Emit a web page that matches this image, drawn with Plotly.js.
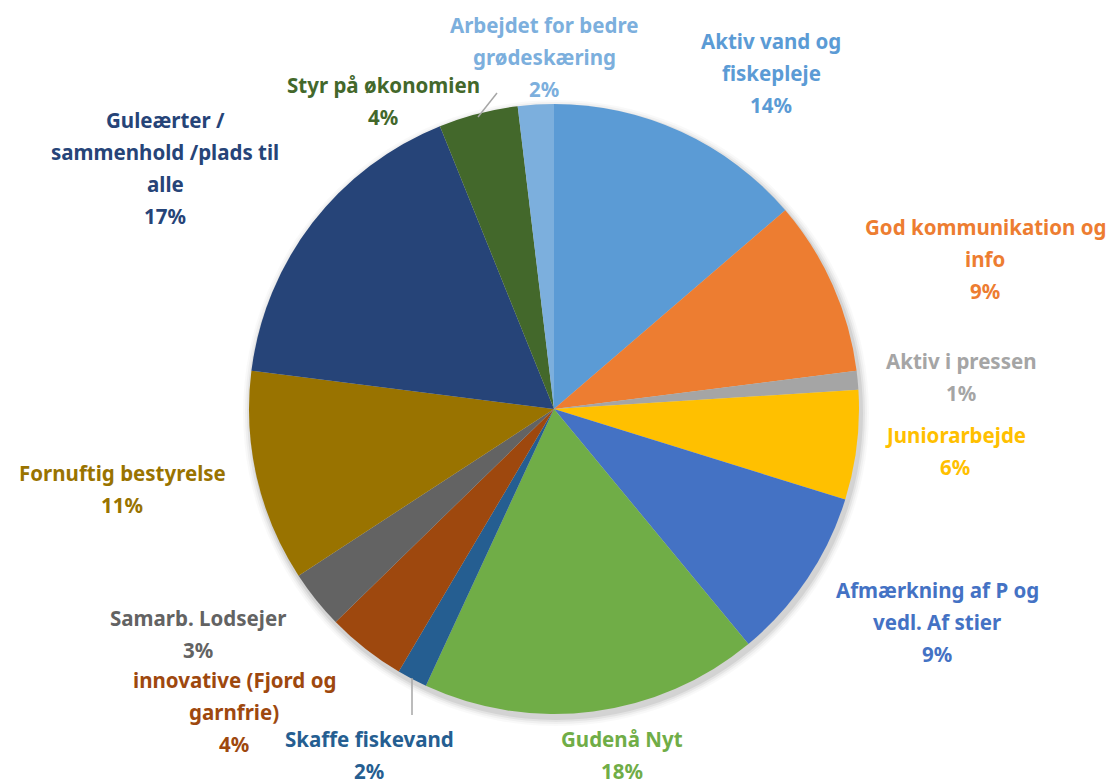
<!DOCTYPE html>
<html>
<head>
<meta charset="utf-8">
<script src="https://cdn.plot.ly/plotly-3.0.1.min.js"></script>
<style>html,body{margin:0;padding:0;background:#fff;}#chart{width:1120px;height:781px;}</style>
</head>
<body>
<div id="chart"></div>
<script>
// ---- data ----
const labels = [
  "Aktiv vand og fiskepleje",
  "God kommunikation og info",
  "Aktiv i pressen",
  "Juniorarbejde",
  "Afmærkning af P og vedl. Af stier",
  "Gudenå Nyt",
  "Skaffe fiskevand",
  "innovative (Fjord og garnfrie)",
  "Samarb. Lodsejer",
  "Fornuftig bestyrelse",
  "Guleærter / sammenhold /plads til alle",
  "Styr på økonomien",
  "Arbejdet for bedre grødeskæring"
];
const values = [13.7, 9.3, 1.0, 5.8, 9.2, 17.9, 1.6, 4.2, 3.1, 11.2, 16.9, 4.2, 1.9];
const labelLines = [
  ["Aktiv vand og", "fiskepleje"],
  ["God kommunikation og", "info"],
  ["Aktiv i pressen"],
  ["Juniorarbejde"],
  ["Afmærkning af P og", "vedl. Af stier"],
  ["Gudenå Nyt"],
  ["Skaffe fiskevand"],
  ["innovative (Fjord og", "garnfrie)"],
  ["Samarb. Lodsejer"],
  ["Fornuftig bestyrelse"],
  ["Guleærter /", "sammenhold /plads til", "alle"],
  ["Styr på økonomien"],
  ["Arbejdet for bedre", "grødeskæring"]
];
const colors = ["#5B9BD5","#ED7D31","#A5A5A5","#FFC000","#4472C4","#70AD47","#255E91",
                "#9E480E","#636363","#997300","#264478","#43682B","#7CAFDD"];

// ---- layout helpers ----
const W = 1120, H = 781;
const px = x => x / W;
const py = y => 1 - y / H;
const cx = 554, cy = 409, r = 305;

// label block centers (pixels)
const labelPos = [
  [771, 73], [985, 259], [961, 377], [955, 451], [937, 622], [622, 755],
  [369, 755], [234, 712], [198, 634], [122, 489], [165, 168], [383, 101], [544, 57]
];
const lineH = 32;

const total = values.reduce((a, b) => a + b, 0);
const annotations = [];
labelLines.forEach((lines, i) => {
  const all = lines.concat([Math.round(values[i] / total * 100) + "%"]);
  const n = all.length;
  all.forEach((t, k) => {
    const y = labelPos[i][1] + (k - (n - 1) / 2) * lineH;
    annotations.push({
      xref: "paper", yref: "paper", x: px(labelPos[i][0]), y: py(y),
      xanchor: "center", yanchor: "middle", showarrow: false, text: t,
      font: {family: "'Noto Sans', sans-serif", size: 20.5, color: colors[i], weight: "bold"}
    });
  });
});

// soft drop shadow behind the pie
const shapes = [];
[[8, 0.025], [6, 0.035], [4, 0.05], [2, 0.07]].forEach(([g, op]) => {
  shapes.push({type: "circle", xref: "paper", yref: "paper", layer: "below",
    x0: px(cx + 2 - r - g), x1: px(cx + 2 + r + g), y0: py(cy + 4 + r + g), y1: py(cy + 4 - r - g),
    fillcolor: "rgba(0,0,0," + op + ")", line: {width: 0}});
});
shapes.push(
  {type: "line", xref: "paper", yref: "paper", x0: px(497), y0: py(93), x1: px(478), y1: py(117),
   line: {color: "#A6A6A6", width: 1.5}},
  {type: "line", xref: "paper", yref: "paper", x0: px(412), y0: py(678), x1: px(412), y1: py(715),
   line: {color: "#A6A6A6", width: 1.5}}
);

const trace = {
  type: "pie",
  labels: labels,
  values: values,
  sort: false,
  direction: "clockwise",
  rotation: 0,
  marker: {colors: colors, line: {width: 0}},
  textinfo: "none",
  hoverinfo: "label+percent",
  domain: {x: [px(cx - r), px(cx + r)], y: [py(cy + r), py(cy - r)]},
  showlegend: false
};

const layout = {
  width: W, height: H,
  margin: {l: 0, r: 0, t: 0, b: 0},
  paper_bgcolor: "#fff",
  showlegend: false,
  annotations: annotations,
  shapes: shapes
};

Plotly.newPlot("chart", [trace], layout, {displayModeBar: false, staticPlot: true});
</script>
</body>
</html>
